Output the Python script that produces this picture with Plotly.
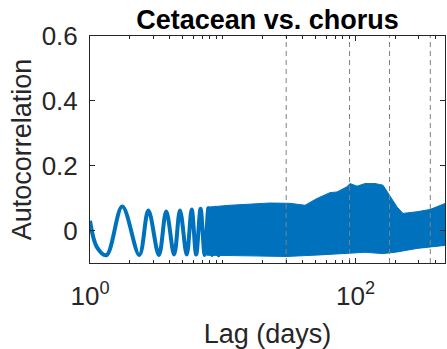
import plotly.graph_objects as go

# Early lags: the daily cycle is still resolved, so the curve runs through its
# successive peaks and troughs.
osc_lag = [1.0, 1.13, 1.33, 1.75, 2.35, 2.75, 3.3, 3.75, 4.3, 4.76, 5.35, 5.83,
           6.3, 6.8, 7.3, 7.8, 8.3, 8.8, 9.3, 9.8]
osc_acf = [0.030, -0.052, -0.076, 0.074, -0.075, 0.062, -0.075, 0.059, -0.074, 0.062,
           -0.074, 0.065, -0.074, 0.067, -0.075, 0.069, -0.075, 0.070, -0.076, 0.072]

# Longer lags: oscillations are packed so densely that they fill a band.
band_up_lag = [7.6, 11.3, 16, 22.7, 32, 41.6, 51.2, 64.1, 72.4, 86.1, 90.7, 102.5,
               117.8, 140, 160.8, 175.4, 205, 227.5, 290, 363, 432, 488]
band_up = [0.072, 0.078, 0.082, 0.085, 0.084, 0.078, 0.099, 0.117, 0.119, 0.135, 0.145,
           0.137, 0.145, 0.145, 0.140, 0.114, 0.073, 0.053, 0.058, 0.065, 0.078, 0.086]
band_lo_lag = [7.6, 16, 30, 54, 83, 117.8, 160.8, 205, 290, 363, 432, 488]
band_lo = [-0.076, -0.078, -0.080, -0.075, -0.070, -0.067, -0.071, -0.066, -0.055,
           -0.050, -0.046, -0.045]

# Reference lags: one month, three months, six months, one year
ref_lags = [30, 90, 180, 365]

x_tick_vals = [1, 100]
x_tick_text = ["10<sup>0</sup>", "10<sup>2</sup>"]
x_minor_vals = [2, 3, 4, 5, 6, 7, 8, 9, 10, 20, 30, 40, 50, 60, 70, 80, 90, 200, 300, 400]
y_tick_vals = [0, 0.2, 0.4, 0.6]
y_tick_text = ["0", "0.2", "0.4", "0.6"]

BLUE = "rgb(0,114,189)"
AX = "rgb(38,38,38)"
FONT = "Liberation Sans, Arial, sans-serif"

fig = go.Figure()

fig.add_trace(go.Scatter(
    x=band_up_lag[::-1] + band_lo_lag, y=band_up[::-1] + band_lo, mode="lines",
    fill="toself", fillcolor=BLUE, line=dict(color=BLUE, width=1),
    hoverinfo="skip", showlegend=False))
fig.add_trace(go.Scatter(
    x=osc_lag, y=osc_acf, mode="lines",
    line=dict(color=BLUE, width=4, shape="spline", smoothing=1),
    showlegend=False))

for lag in ref_lags:
    fig.add_trace(go.Scatter(
        x=[lag, lag], y=[-0.1, 0.6], mode="lines",
        line=dict(color="rgb(128,128,128)", width=1, dash="5px,4px"),
        hoverinfo="skip", showlegend=False))

fig.update_layout(
    width=447, height=349,
    margin=dict(l=90, r=2, t=36, b=86),
    paper_bgcolor="white", plot_bgcolor="white",
    font=dict(family=FONT, color=AX, size=26),
    title=dict(text="<b>Cetacean vs. chorus</b>", x=0.5985, xanchor="center",
               y=1 - 20 / 349, yanchor="middle",
               font=dict(family=FONT, size=27, color="black")),
)

fig.update_xaxes(
    type="log", range=[0, 2.673],
    tickmode="array", tickvals=x_tick_vals, ticktext=x_tick_text,
    ticks="inside", ticklen=5, tickwidth=1, tickcolor=AX,
    minor=dict(tickmode="array", tickvals=x_minor_vals, ticks="inside",
               ticklen=3, tickwidth=1, tickcolor=AX),
    showline=True, linecolor=AX, linewidth=1, mirror="ticks",
    showgrid=False, zeroline=False, automargin=False,
    tickfont=dict(size=26, color=AX), ticklabelstandoff=10,
    title=dict(text="Lag (days)", standoff=15, font=dict(size=27, color=AX)),
)
fig.update_yaxes(
    range=[-0.1, 0.6],
    tickmode="array", tickvals=y_tick_vals, ticktext=y_tick_text,
    ticks="inside", ticklen=5, tickwidth=1, tickcolor=AX,
    showline=True, linecolor=AX, linewidth=1, mirror="ticks",
    showgrid=False, zeroline=False, automargin=False,
    tickfont=dict(size=26, color=AX), ticklabelstandoff=6,
    title=dict(text="Autocorrelation", standoff=2, font=dict(size=27, color=AX)),
)

fig.write_html("out.html")
